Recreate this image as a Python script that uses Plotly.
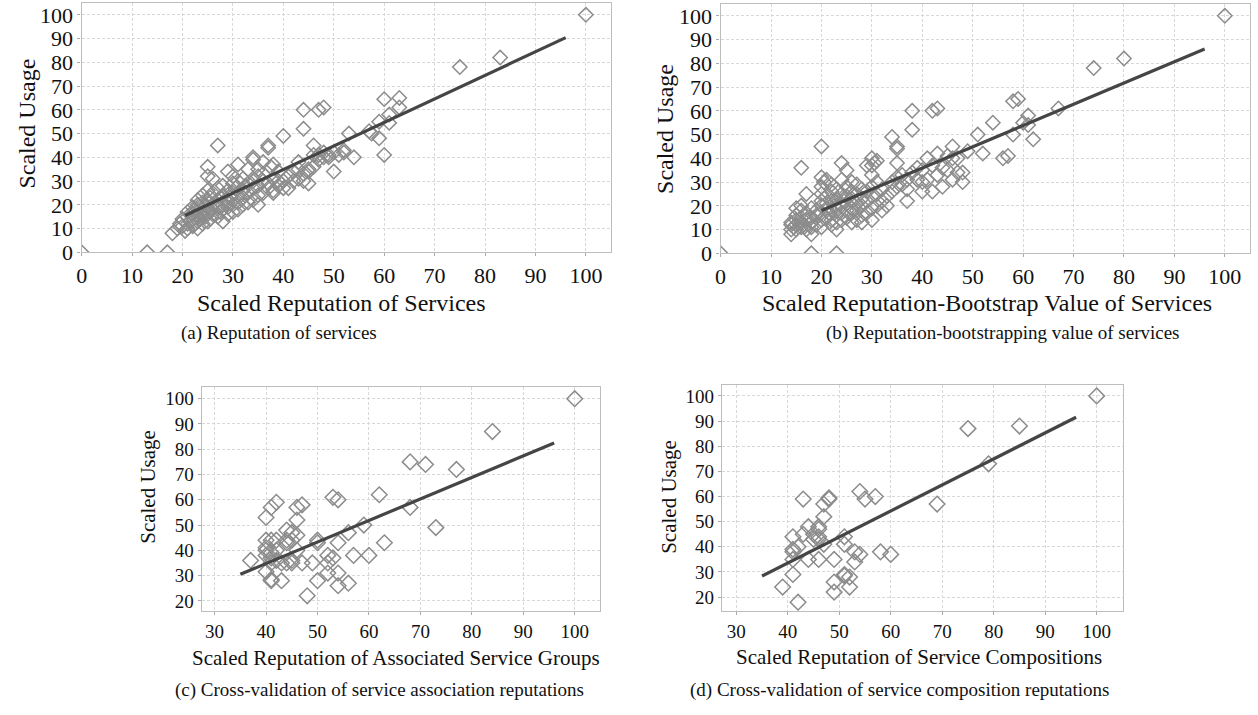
import plotly.graph_objects as go

# ---------------- data ----------------
# (a) Reputation of services
a_x = [0, 13, 17, 18, 19, 19.5, 20, 20, 20.5, 21, 21, 21, 21, 21.5, 22, 22, 22, 22, 22.5, 22.5,
       23, 23, 23, 23, 23, 23, 23.5, 23.5, 24, 24, 24, 24, 24, 24.5, 24.5, 25, 25, 25, 25, 25,
       25, 25, 25.5, 25.5, 26, 26, 26, 26, 26, 26.5, 27, 27, 27, 27, 27, 27.5, 28, 28, 28, 28,
       28, 28.5, 29, 29, 29, 29, 29, 29.5, 30, 30, 30, 30, 30, 30, 30.5, 31, 31, 31, 31, 31,
       32, 32, 32, 32, 32.5, 33, 33, 33, 33, 34, 34, 34, 34, 34, 35, 35, 35, 35, 35, 36,
       36, 36, 36, 37, 37, 37, 37, 37.5, 38, 38, 38, 38, 39, 39, 39, 40, 40, 40, 41, 41,
       42, 42, 43, 43, 43, 44, 44, 44, 44, 45, 45, 45, 46, 46, 46, 47, 47, 47, 48, 48,
       48, 49, 49, 50, 50, 51, 52, 52, 53, 54, 57, 57.5, 59, 59, 60, 60, 61, 61, 63, 63,
       75, 83, 100]
a_y = [0, 0, 0, 8, 10, 12, 11, 14, 9, 10, 12, 15, 17, 13, 11, 14, 16, 19, 12, 18,
       10, 13, 15, 17, 20, 22, 14, 19, 12, 16, 18, 21, 24, 15, 20, 13, 17, 19, 22, 26,
       32, 36, 14, 23, 16, 18, 20, 25, 31, 21, 45, 15, 19, 22, 27, 17, 13, 18, 20, 24,
       28, 22, 16, 19, 21, 26, 34, 23, 17, 20, 22, 25, 29, 32, 27, 18, 21, 24, 30, 37,
       20, 23, 26, 31, 28, 21, 25, 29, 35, 22, 27, 30, 39, 40, 20, 24, 28, 32, 35, 25,
       30, 33, 38, 27, 29, 44, 45, 36, 26, 31, 37, 25, 28, 30, 34, 27, 30, 49, 27, 32,
       30, 34, 31, 35, 38, 30, 52, 60, 33, 34, 35, 29, 36, 45, 41, 60, 39, 41, 61, 40,
       42, 41, 40, 34, 42, 41, 43, 42, 50, 40, 51, 50, 55, 48, 41, 64.5, 58, 54.5, 65, 61,
       78, 82, 100]
a_fit_x = [20.5, 96]
a_fit_y = [15.5, 90.4]

# (b) Reputation-bootstrapping value of services
b_x = [0, 18, 23, 14, 18, 14, 14, 14, 14.5, 15, 15, 15, 15, 15, 15.5, 16, 16, 16, 16, 16,
       16, 16.5, 17, 17, 17, 17, 17.5, 18, 18, 18, 18, 19, 19, 19, 20, 20, 20, 20, 20, 20,
       20, 20, 20, 20.5, 21, 21, 21, 21, 21, 21.5, 22, 22, 22, 22, 22, 22, 22.5, 23, 23, 23,
       23, 23, 23, 23.5, 24, 24, 24, 24, 24, 24, 24.5, 25, 25, 25, 25, 25, 25, 26, 26, 26,
       26, 26, 26, 27, 27, 27, 27, 27, 28, 28, 28, 28, 28, 29, 29, 29, 29, 30, 30, 30,
       30, 30, 30, 30, 30.5, 31, 31, 31, 31, 32, 32, 32, 33, 33, 34, 34, 34, 35, 35, 35,
       35, 35, 36, 36, 37, 37, 37, 38, 38, 38, 39, 39, 40, 40, 40, 41, 41, 42, 42, 42,
       43, 43, 43, 44, 44, 45, 45, 46, 46, 46, 47, 47, 48, 48, 49, 51, 52, 54, 56, 57,
       58, 58, 59, 60, 61, 61, 62, 67, 74, 80, 100]
b_y = [0, 0, 0, 8, 8, 10, 12, 13, 11, 10, 12, 14, 16, 19, 13, 11, 13, 15, 18, 20,
       36, 12, 10, 14, 17, 25, 12, 11, 13, 15, 19, 12, 16, 18, 11, 14, 17, 20, 22, 25,
       28, 32, 45, 30, 15, 19, 21, 24, 31, 17, 12, 14, 18, 22, 26, 29, 20, 10, 13, 16,
       19, 23, 27, 21, 14, 17, 20, 25, 31, 38, 22, 15, 18, 21, 24, 28, 35, 13, 17, 19,
       23, 26, 30, 14, 18, 21, 25, 29, 13, 16, 20, 23, 27, 17, 22, 26, 37, 14, 19, 24,
       28, 33, 37, 40, 38, 20, 25, 30, 39, 18, 22, 27, 24, 20, 26, 30, 49, 28, 32, 38,
       44, 45, 29, 33, 22, 27, 31, 34, 52, 60, 31, 36, 26, 30, 35, 31, 40, 26, 60, 37,
       61, 42, 33, 28, 36, 41, 35, 45, 40, 31, 40, 34, 34, 30, 43, 50, 42, 55, 40, 41,
       50, 64, 65, 55, 54, 58, 48, 61, 78, 82, 100]
b_fit_x = [20, 96]
b_fit_y = [18, 86]

# (c) Cross-validation of service association reputations
c_x = [37, 40, 40, 40, 40, 40, 40, 41, 41, 41, 41, 41, 41, 41, 42, 42, 42, 42, 43, 43,
       44, 44, 44, 44, 45, 45, 45, 45, 46, 46, 46, 46, 47, 47, 48, 49, 50, 50, 50, 52,
       52, 52, 53, 53, 54, 54, 54, 54, 56, 56, 57, 59, 60, 62, 63, 68, 68, 71, 73, 77,
       84, 100]
c_y = [36, 53, 44, 41, 40, 38, 31.5, 57, 44, 39, 37, 35, 28.5, 28, 59, 44, 40, 36, 35, 28,
       48, 44, 43, 35, 47, 44, 36, 35, 57, 52, 46, 40, 58, 35, 22, 35, 43, 44, 28, 38,
       35, 31, 61, 37, 60, 43, 31, 26, 27, 47, 38, 50, 38, 62, 43, 75, 57, 74, 49, 72,
       87, 100]
c_fit_x = [35, 96]
c_fit_y = [30.5, 82.5]

# (d) Cross-validation of service composition reputations
d_x = [39, 41, 41, 41, 41, 41, 42, 42, 43, 43, 44, 44, 45, 45, 46, 46, 46, 46, 46, 47,
       47, 47, 48, 48, 49, 49, 49, 51, 51, 51, 51, 52, 52, 53, 53, 54, 54, 55, 57, 58,
       60, 69, 75, 79, 85, 100]
d_y = [24, 44, 39, 38, 35, 29, 40, 18, 59, 45, 48, 35, 45, 43, 48, 47, 44, 43, 35, 57,
       52, 41, 59, 59.5, 35, 26, 22, 44, 41, 29, 28.5, 28, 24, 38, 34, 37, 62, 59, 60, 38,
       37, 57, 87, 73, 88, 100]
d_fit_x = [35, 96]
d_fit_y = [28.4, 91.5]

top_ticks = [0, 10, 20, 30, 40, 50, 60, 70, 80, 90, 100]
bottom_xticks = [30, 40, 50, 60, 70, 80, 90, 100]
bottom_yticks = [20, 30, 40, 50, 60, 70, 80, 90, 100]

x_titles = ["Scaled Reputation of Services",
            "Scaled Reputation-Bootstrap Value of Services",
            "Scaled Reputation of Associated Service Groups",
            "Scaled Reputation of Service Compositions"]
y_title = "Scaled Usage"
captions = ["(a) Reputation of services",
            "(b) Reputation-bootstrapping value of services",
            "(c) Cross-validation of service association reputations",
            "(d) Cross-validation of service composition reputations"]

# ---------------- figure ----------------
W, H = 1258, 715
FONT = "Liberation Serif, Times New Roman, serif"
MARK = "#8c8c8c"
LINE = "#454545"
TXT = "#111111"


def px(x):
    return x / W


def py(y):
    return 1 - y / H


fig = go.Figure()
panels = [
    (a_x, a_y, a_fit_x, a_fit_y, "x", "y"),
    (b_x, b_y, b_fit_x, b_fit_y, "x2", "y2"),
    (c_x, c_y, c_fit_x, c_fit_y, "x3", "y3"),
    (d_x, d_y, d_fit_x, d_fit_y, "x4", "y4"),
]
for i, (xs, ys, fx, fy, xa, ya) in enumerate(panels):
    big = i < 2
    fig.add_trace(go.Scatter(
        x=xs, y=ys, mode="markers", xaxis=xa, yaxis=ya, showlegend=False,
        marker=dict(symbol="diamond-open", size=11 if big else 12, color=MARK,
                    line=dict(width=1.5, color=MARK))))
    fig.add_trace(go.Scatter(
        x=fx, y=fy, mode="lines", xaxis=xa, yaxis=ya, showlegend=False,
        line=dict(color=LINE, width=3.2)))

common = dict(showgrid=True, gridcolor="#d8d8d8", griddash="3px,2px", gridwidth=1,
              showline=True, mirror=True, linecolor="#bdbdbd", linewidth=1.3,
              zeroline=False, ticks="outside", ticklen=3, tickcolor="#aaaaaa",
              tickfont=dict(family=FONT, color=TXT))

big_font = 22
small_font = 19

layout = dict(
    width=W, height=H, margin=dict(l=0, r=0, t=0, b=0),
    paper_bgcolor="white", plot_bgcolor="white",
    font=dict(family=FONT, color=TXT),
    xaxis=dict(domain=[px(76), px(608)], range=[0, 105], tickvals=top_ticks,
               anchor="y", **common),
    yaxis=dict(domain=[py(257), py(3)], range=[0, 105], tickvals=top_ticks,
               anchor="x", **common),
    xaxis2=dict(domain=[px(718), px(1250)], range=[0, 105], tickvals=top_ticks,
                anchor="y2", **common),
    yaxis2=dict(domain=[py(258), py(4)], range=[0, 105], tickvals=top_ticks,
                anchor="x2", **common),
    xaxis3=dict(domain=[px(196.7), px(597.3)], range=[27.5, 105], tickvals=bottom_xticks,
                anchor="y3", **common),
    yaxis3=dict(domain=[py(622.3), py(394)], range=[16, 104.7], tickvals=bottom_yticks,
                anchor="x3", **common),
    xaxis4=dict(domain=[px(719.3), px(1122.3)], range=[27.2, 105.1], tickvals=bottom_xticks,
                anchor="y4", **common),
    yaxis4=dict(domain=[py(622.3), py(391.7)], range=[14.5, 104.5], tickvals=bottom_yticks,
                anchor="x4", **common),
)
fig.update_layout(**layout)
for ax in ["xaxis", "yaxis", "xaxis2", "yaxis2"]:
    fig.layout[ax].tickfont.size = big_font
for ax in ["xaxis3", "yaxis3", "xaxis4", "yaxis4"]:
    fig.layout[ax].tickfont.size = small_font

ann = []
# x titles
for txt, cx, cy, fs in [(x_titles[0], 337.5, 309, 24), (x_titles[1], 986, 309, 24),
                        (x_titles[2], 391.7, 670, 21), (x_titles[3], 917, 669, 21)]:
    ann.append(dict(text=txt, x=px(cx), y=py(cy), xref="paper", yref="paper",
                    showarrow=False, xanchor="center", yanchor="middle",
                    font=dict(family=FONT, size=fs, color=TXT)))
# y titles
for cx, cy, fs in [(21, 126, 24), (661.5, 131, 24), (142.5, 496, 21), (666.7, 506.5, 21)]:
    ann.append(dict(text=y_title, x=px(cx), y=py(cy), xref="paper", yref="paper",
                    showarrow=False, xanchor="center", yanchor="middle", textangle=-90,
                    font=dict(family=FONT, size=fs, color=TXT)))
# captions
for txt, cx, cy in [(captions[0], 274, 339), (captions[1], 1002, 339),
                    (captions[2], 375, 703), (captions[3], 898, 703)]:
    ann.append(dict(text=txt, x=px(cx), y=py(cy), xref="paper", yref="paper",
                    showarrow=False, xanchor="center", yanchor="middle",
                    font=dict(family=FONT, size=19, color=TXT)))
fig.update_layout(annotations=ann)

fig.write_html("out.html", config={"displayModeBar": False},
               post_script="document.body.style.margin='0px';")
